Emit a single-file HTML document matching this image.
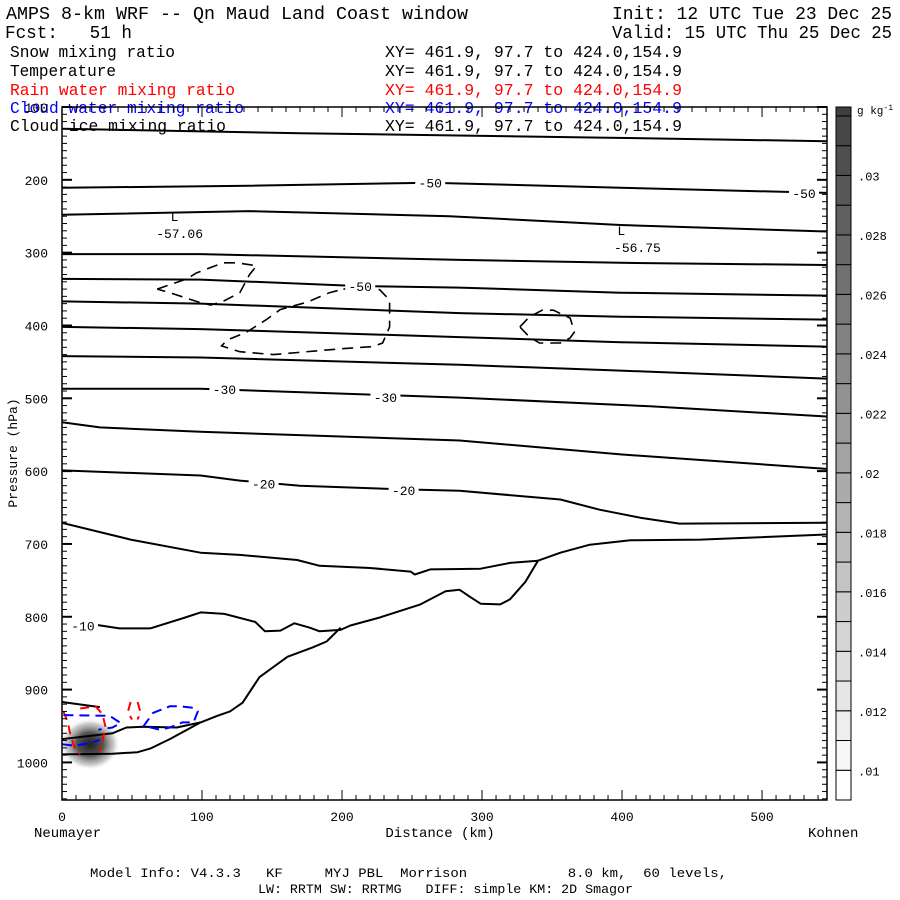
<!DOCTYPE html>
<html><head><meta charset="utf-8"><style>
html,body{margin:0;padding:0;background:#fff;}
svg{display:block;}
text{font-family:"Liberation Mono","DejaVu Sans Mono",monospace;white-space:pre;}
</style></head><body>
<svg id="chart" width="900" height="900" viewBox="0 0 900 900" xmlns="http://www.w3.org/2000/svg" xml:space="preserve">
<rect width="900" height="900" fill="#fff"/>
<defs>
<radialGradient id="blob" cx="0.5" cy="0.5" r="0.5">
<stop offset="0" stop-color="#202020"/>
<stop offset="0.45" stop-color="#555"/>
<stop offset="0.8" stop-color="#aaa" stop-opacity="0.6"/>
<stop offset="1" stop-color="#fff" stop-opacity="0"/>
</radialGradient>
<clipPath id="plotclip"><rect x="62" y="107" width="765" height="693"/></clipPath>
</defs>
<g font-size="16.5">
<text x="6" y="19" font-size="18" textLength="462" lengthAdjust="spacingAndGlyphs">AMPS 8-km WRF -- Qn Maud Land Coast window</text>
<text x="612" y="19" font-size="18" textLength="280" lengthAdjust="spacingAndGlyphs">Init: 12 UTC Tue 23 Dec 25</text>
<text x="5" y="38" font-size="18" textLength="127" lengthAdjust="spacingAndGlyphs">Fcst:   51 h</text>
<text x="612" y="38" font-size="18" textLength="280" lengthAdjust="spacingAndGlyphs">Valid: 15 UTC Thu 25 Dec 25</text>
<text x="10" y="57" textLength="165" lengthAdjust="spacingAndGlyphs">Snow mixing ratio</text>
<text x="385" y="57" textLength="297" lengthAdjust="spacingAndGlyphs">XY= 461.9, 97.7 to 424.0,154.9</text>
<text x="10" y="76" textLength="106" lengthAdjust="spacingAndGlyphs">Temperature</text>
<text x="385" y="76" textLength="297" lengthAdjust="spacingAndGlyphs">XY= 461.9, 97.7 to 424.0,154.9</text>
<text x="10" y="95" fill="#f00" textLength="225" lengthAdjust="spacingAndGlyphs">Rain water mixing ratio</text>
<text x="385" y="95" fill="#f00" textLength="297" lengthAdjust="spacingAndGlyphs">XY= 461.9, 97.7 to 424.0,154.9</text>
<text x="10" y="113" fill="#00f" textLength="234" lengthAdjust="spacingAndGlyphs">Cloud water mixing ratio</text>
<text x="385" y="113" fill="#00f" textLength="297" lengthAdjust="spacingAndGlyphs">XY= 461.9, 97.7 to 424.0,154.9</text>
<text x="10" y="131" textLength="216" lengthAdjust="spacingAndGlyphs">Cloud ice mixing ratio</text>
<text x="385" y="131" textLength="297" lengthAdjust="spacingAndGlyphs">XY= 461.9, 97.7 to 424.0,154.9</text>
</g>
<g id="plot" clip-path="url(#plotclip)"></g>
<g id="axes"></g>
<g id="cbar"></g>
<g font-size="13">
<text x="90" y="877" textLength="637" lengthAdjust="spacingAndGlyphs">Model Info: V4.3.3   KF     MYJ PBL  Morrison            8.0 km,  60 levels,</text>
<text x="258" y="893" textLength="375" lengthAdjust="spacingAndGlyphs">LW: RRTM SW: RRTMG   DIFF: simple KM: 2D Smagor</text>
</g>
</svg>
<script>
// ---- data ----
const pressureTicks = [100,200,300,400,500,600,700,800,900,1000];
const distanceTicks = [0,100,200,300,400,500];
const cbarLevels = [0.009,0.010,0.011,0.012,0.013,0.014,0.015,0.016,0.017,0.018,0.019,0.020,0.021,0.022,0.023,0.024,0.025,0.026,0.027,0.028,0.029,0.030,0.031,0.032];
const cbarLabels = [".01",".012",".014",".016",".018",".02",".022",".024",".026",".028",".03"];
const cbarLabelValues = [0.010,0.012,0.014,0.016,0.018,0.020,0.022,0.024,0.026,0.028,0.030];
// temperature contours: [km, hPa]
const tLine1 = [[0,130],[170,136],[384,142],[546,147]];
const tLine2 = [[0,211],[134,208],[263,204],[399,211],[546,218]];
const tLine3 = [[0,248],[134,243],[277,250],[399,262],[546,271]];
const tLine4 = [[0,302],[99,302],[284,310],[399,314],[546,317]];
const tLine5 = [[0,336],[99,337],[213,346],[284,348],[399,355],[546,359]];
const tLine6 = [[0,367],[99,370],[284,383],[399,388],[546,392]];
const tLine7 = [[0,402],[99,405],[284,416],[399,423],[546,429]];
const tLine8 = [[0,442],[99,444],[284,454],[399,462],[546,473]];
const tLine9 = [[0,487],[99,487],[284,499],[420,511],[546,525]];
const tLine10 = [[0,533],[27,540],[99,546],[284,558],[399,577],[546,597]];
const tLine11 = [[0,599],[99,606],[127,613],[170,620],[241,625],[284,627],[356,639],[384,653],[413,664],[441,672],[546,671]];
const tLine12 = [[0,671],[49,694],[99,712],[127,715],[168,722],[184,730],[220,733],[249,738],[252,742],[263,735],[299,734],[320,726],[340,723]];
const tLine13 = [[24,811],[41,816],[63,816],[88,801],[99,794],[116,796],[138,807],[145,820],[156,819],[166,809],[177,815],[184,820],[199,818],[206,812],[227,801],[256,783],[274,765],[284,763],[291,772],[299,782],[313,783],[320,776],[331,752],[340,723],[356,712],[377,701],[406,695],[456,694],[546,687]];
const tLine14 = [[0,989],[36,988],[54,986],[63,981],[77,968],[99,945],[111,936],[120,930],[129,918],[141,883],[161,855],[179,842],[189,834],[199,815]];
const tLine15 = [[0,968],[36,960],[46,952],[58,951],[82,952],[99,945]];
const tLine16 = [[0,917],[27,924]];
const tempLines = [tLine1,tLine2,tLine3,tLine4,tLine5,tLine6,tLine7,tLine8,tLine9,tLine10,tLine11,tLine12,tLine13,tLine14,tLine15,tLine16];
const tempLabelText = ["-50","-50","-50","-30","-30","-20","-20","-10"];
const tempLabelPos = [[263,204],[530,218],[213,346],[116,487],[231,498],[144,617],[244,626],[15,812]];
// cloud ice dashed loops
const iceLoop1 = [[68,350],[89,336],[96,328],[115,314],[125,314],[139,318],[134,330],[127,355],[115,367],[106,372],[96,367],[77,355],[68,350]];
const iceLoop2 = [[201,350],[220,346],[227,351],[234,365],[234,402],[229,424],[222,429],[199,432],[151,440],[127,436],[114,428],[118,420],[132,409],[146,392],[156,378],[175,368],[191,355],[201,350]];
const iceLoop3 = [[327,402],[334,388],[343,379],[351,379],[363,390],[366,409],[363,417],[356,424],[341,424],[334,416],[327,402]];
const iceLoops = [iceLoop1,iceLoop2,iceLoop3];
// rain water (red) dashed
const rain1 = [[1,930],[4,944],[6,962],[9,980],[13,989]];
const rain2 = [[13,926],[24,923],[29,934],[31,951],[29,971],[27,985]];
const rain3 = [[49,917],[47,931],[50,941]];
const rain4 = [[54,917],[56,931],[54,941]];
const rainLines = [rain1,rain2,rain3,rain4];
// cloud water (blue) dashed
const cw1 = [[1,935],[34,936],[42,946],[36,952],[26,955]];
const cw2 = [[0,975],[9,977],[21,973],[27,969]];
const cw3 = [[58,951],[65,932],[77,923],[84,923],[94,925],[97,930],[94,945],[86,945],[77,952],[70,955],[61,951]];
const cwLines = [cw1,cw2,cw3];
// snow max blob
const snowCenter = [20,975];
const lowLabels = [["L","-57.06",[84,273]],["L","-56.75",[411,292]]];

// ---- scales ----
const X0=62, X1=827, Y0=107, Y1=800;
const kmMax = 546.4, pMin=100, pMax=1051.6;
const xs = km => X0 + (km/kmMax)*(X1-X0);
const ys = p => Y0 + (p-pMin)/(pMax-pMin)*(Y1-Y0);
const NS="http://www.w3.org/2000/svg";
function mk(tag, attrs, parent){const e=document.createElementNS(NS,tag);for(const k in attrs)e.setAttribute(k,attrs[k]);parent.appendChild(e);return e;}
const plot=document.getElementById('plot');
const axes=document.getElementById('axes');
const cbar=document.getElementById('cbar');
const ptsStr = arr => arr.map(d=>xs(d[0]).toFixed(1)+","+ys(d[1]).toFixed(1)).join(" ");

// blob
const b = mk('ellipse',{cx:xs(snowCenter[0]),cy:ys(snowCenter[1]),rx:30,ry:26,fill:'url(#blob)'},plot);



tempLines.forEach((ln,i)=>{
  const e=mk('polyline',{points:ptsStr(ln),fill:'none',stroke:'#000','stroke-width':2,'stroke-linejoin':'round'},plot);
  
  
});
iceLoops.forEach((ln,i)=>{
  const e=mk('polyline',{points:ptsStr(ln),fill:'none',stroke:'#000','stroke-width':1.6,'stroke-dasharray':'11,7'},plot);
  
  
});
rainLines.forEach((ln,i)=>{
  const e=mk('polyline',{points:ptsStr(ln),fill:'none',stroke:'#f00','stroke-width':2,'stroke-dasharray':'9,6'},plot);
  
  
});
cwLines.forEach((ln,i)=>{
  const e=mk('polyline',{points:ptsStr(ln),fill:'none',stroke:'#00f','stroke-width':2,'stroke-dasharray':'10,6'},plot);
  
  
});
tempLabelText.forEach((t,i)=>{
  const cx=xs(tempLabelPos[i][0]), cy=ys(tempLabelPos[i][1]);
  mk('rect',{x:cx-15,y:cy-7,width:30,height:14,fill:'#fff'},plot);
  const e=mk('text',{x:cx,y:cy+5,'text-anchor':'middle','font-size':13},plot);
  e.textContent=t;
  
  
});
lowLabels.forEach((l,i)=>{
  const cx=xs(l[2][0]), cy=ys(l[2][1]);
  const a=mk('text',{x:cx-(i===0?9:20),y:cy-12,'font-size':13},plot); a.textContent=l[0];
  
  
  const c=mk('text',{x:cx,y:cy+5,'text-anchor':'middle','font-size':13},plot); c.textContent=l[1];
  
  
});

// frame
const fr=mk('rect',{x:X0,y:Y0,width:X1-X0,height:Y1-Y0,fill:'none',stroke:'#000','stroke-width':1.5},axes);


for(let p=100;p<=1050;p+=10){
  const y=ys(p), major=(p%100===0), L=major?10:5;
  mk('line',{x1:X0,x2:X0+L,y1:y,y2:y,stroke:'#000','stroke-width':major?2:1},axes);
  mk('line',{x1:X1,x2:X1-L,y1:y,y2:y,stroke:'#000','stroke-width':major?2:1},axes);
}
pressureTicks.forEach(p=>{
  const e=mk('text',{x:48,y:ys(p)+5,'text-anchor':'end','font-size':13},axes);
  e.textContent=p;
  
  
});
for(let k=0;k<=546;k+=10){
  const x=xs(k), major=(k%100===0), L=major?10:5;
  mk('line',{x1:x,x2:x,y1:Y1,y2:Y1-L,stroke:'#000','stroke-width':1},axes);
  mk('line',{x1:x,x2:x,y1:Y0,y2:Y0+L,stroke:'#000','stroke-width':1},axes);
}
distanceTicks.forEach(k=>{
  const e=mk('text',{x:xs(k),y:821,'text-anchor':'middle','font-size':13},axes);
  e.textContent=k;
  
  
});
const yt=mk('text',{x:0,y:0,'text-anchor':'middle','font-size':13,transform:'translate(17,453) rotate(-90)'},axes);
yt.textContent='Pressure (hPa)';


const xt=mk('text',{x:440,y:837,'text-anchor':'middle','font-size':14},axes);
xt.textContent='Distance (km)';


const sl=mk('text',{x:34,y:837,'font-size':14},axes);
sl.textContent='Neumayer';


const el=mk('text',{x:808,y:837,'font-size':14},axes);
el.textContent='Kohnen';



// colorbar
const CB0=107, CB1=800, cbMin=cbarLevels[0], cbMax=0.0323;
const cy = v => CB1 - (v-cbMin)/(cbMax-cbMin)*(CB1-CB0);
cbarLevels.forEach((v,i)=>{
  const top = Math.max(CB0, cy(Math.min(v+0.001,cbMax)));
  const bot = cy(v);
  const t = (v-cbMin)/(cbMax-cbMin);
  const g = Math.round(255 - t*(255-60));
  const r=mk('rect',{x:836,y:top,width:15,height:bot-top,fill:`rgb(${g},${g},${g})`,stroke:'#000','stroke-width':1},cbar);
  
  
});
cbarLabels.forEach((t,i)=>{
  const e=mk('text',{x:858,y:cy(cbarLabelValues[i])+5,'font-size':12},cbar);
  e.textContent=t;
  
  
});
const u=mk('text',{x:857,y:114,'font-size':11},cbar);
u.innerHTML='g kg<tspan dy="-4" font-size="8">-1</tspan>';


</script>
</body></html>
